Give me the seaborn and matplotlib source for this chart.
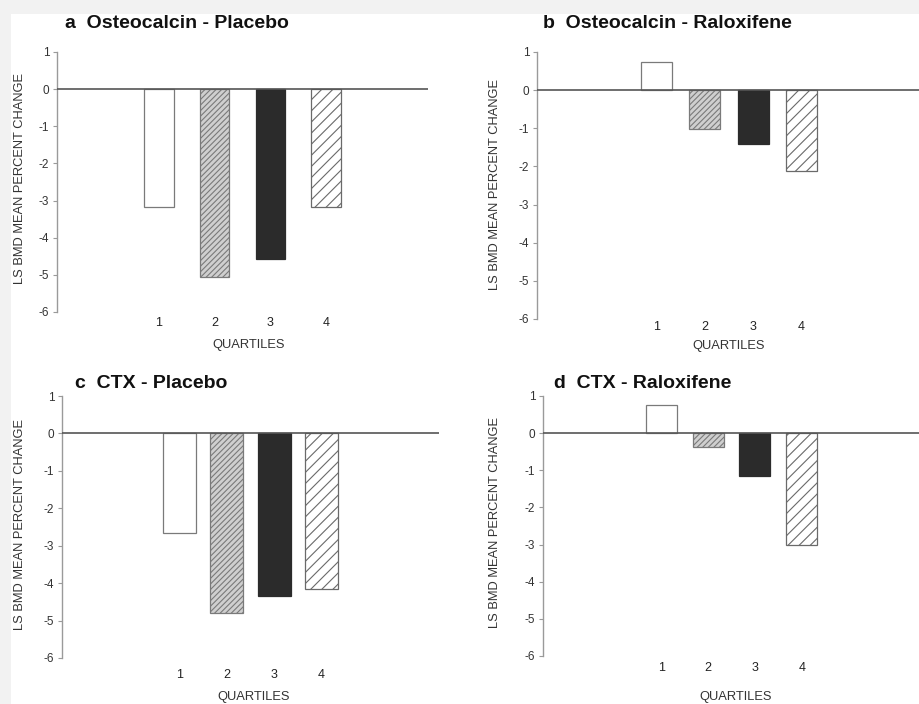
import matplotlib
matplotlib.use("Agg")
import matplotlib.pyplot as plt
from matplotlib.patches import Rectangle
import seaborn as sns
import pandas as pd

sns.set_style("white")
plt.rcParams["font.family"] = ["Liberation Sans", "DejaVu Sans"]
plt.rcParams["hatch.linewidth"] = 0.8

# Quartile categories and LS BMD mean percent change per panel
quartiles = ["1", "2", "3", "4"]
osteocalcin_placebo = [-3.17, -5.07, -4.56, -3.17]
osteocalcin_raloxifene = [0.73, -1.01, -1.41, -2.11]
ctx_placebo = [-2.66, -4.80, -4.34, -4.16]
ctx_raloxifene = [0.75, -0.37, -1.15, -3.00]

panel_titles = ["a  Osteocalcin - Placebo", "b  Osteocalcin - Raloxifene",
                "c  CTX - Placebo", "d  CTX - Raloxifene"]
y_label = "LS BMD MEAN PERCENT CHANGE"
x_label = "QUARTILES"
y_ticks = [1, 0, -1, -2, -3, -4, -5, -6]

W, H = 920, 704
fig = plt.figure(figsize=(W / 100, H / 100), dpi=100, facecolor="#f2f2f2")
fig.patches.append(Rectangle((11 / W, 0), 1, 1 - 14 / H, transform=fig.transFigure,
                             facecolor="white", edgecolor="none", zorder=-10))


def px_rect(left, right, top, bottom):
    return [left / W, 1 - bottom / H, (right - left) / W, (bottom - top) / H]


# layout per panel: axes box (px), x-limits, bar width, tick pad, title pos, ylabel pos, xlabel pos
layouts = [
    dict(box=(57, 428, 52, 312), xlim=(-1.83, 4.83), width=0.53, pad=3.5,
         title=(65, 24), ylab=(20, 178), xlab=(249, 345)),
    dict(box=(537, 921, 52, 319), xlim=(-2.48, 5.48), width=0.64, pad=1.5,
         title=(543, 24), ylab=(495, 184), xlab=(729, 346)),
    dict(box=(62, 439, 396, 658), xlim=(-2.5, 5.5), width=0.70, pad=8.0,
         title=(75, 384), ylab=(20, 525), xlab=(254, 697)),
    dict(box=(543, 920, 396, 656), xlim=(-2.52, 5.52), width=0.66, pad=4.5,
         title=(554, 384), ylab=(495, 522), xlab=(736, 697)),
]
series = [osteocalcin_placebo, osteocalcin_raloxifene, ctx_placebo, ctx_raloxifene]

bar_styles = [
    dict(facecolor="white", edgecolor="#7a7a7a", hatch=None),
    dict(facecolor="#cfcfcf", edgecolor="#7a7a7a", hatch="//////"),
    dict(facecolor="#2b2b2b", edgecolor="#2b2b2b", hatch=None),
    dict(facecolor="white", edgecolor="#6a6a6a", hatch="///"),
]

for values, title, lay in zip(series, panel_titles, layouts):
    ax = fig.add_axes(px_rect(*lay["box"]))
    df = pd.DataFrame({"quartile": quartiles, "change": values})
    sns.barplot(data=df, x="quartile", y="change", ax=ax, width=lay["width"],
                color="white", saturation=1, errorbar=None)
    for patch, st in zip(ax.patches, bar_styles):
        patch.set_facecolor(st["facecolor"])
        patch.set_edgecolor(st["edgecolor"])
        patch.set_linewidth(0.9)
        if st["hatch"]:
            patch.set_hatch(st["hatch"])
    ax.axhline(0, color="#555555", lw=1.2, zorder=5)
    ax.set_xlim(*lay["xlim"])
    ax.set_ylim(-6, 1)
    ax.set_facecolor("none")
    for side in ["top", "right", "bottom"]:
        ax.spines[side].set_visible(False)
    ax.spines["left"].set_color("#9a9a9a")
    ax.spines["left"].set_linewidth(1.0)
    ax.set_yticks(y_ticks)
    ax.set_yticklabels([str(v) for v in y_ticks])
    ax.tick_params(axis="y", left=True, length=3, width=0.8, color="#9a9a9a",
                   labelsize=8.5, labelcolor="#333333", pad=2.5)
    ax.tick_params(axis="x", length=0, labelsize=9, labelcolor="#222222", pad=lay["pad"])
    ax.set_xlabel("")
    ax.set_ylabel("")
    tx, ty = lay["title"]
    fig.text(tx / W, 1 - ty / H, title, ha="left", va="center", fontsize=14,
             fontweight="bold", color="#111111")
    yx, yy = lay["ylab"]
    fig.text(yx / W, 1 - yy / H, y_label, rotation=90, ha="center", va="center",
             fontsize=9.3, color="#333333")
    xx, xy = lay["xlab"]
    fig.text(xx / W, 1 - xy / H, x_label, ha="center", va="center",
             fontsize=9.3, color="#333333")

fig.savefig("out.png", dpi=100, facecolor=fig.get_facecolor())
